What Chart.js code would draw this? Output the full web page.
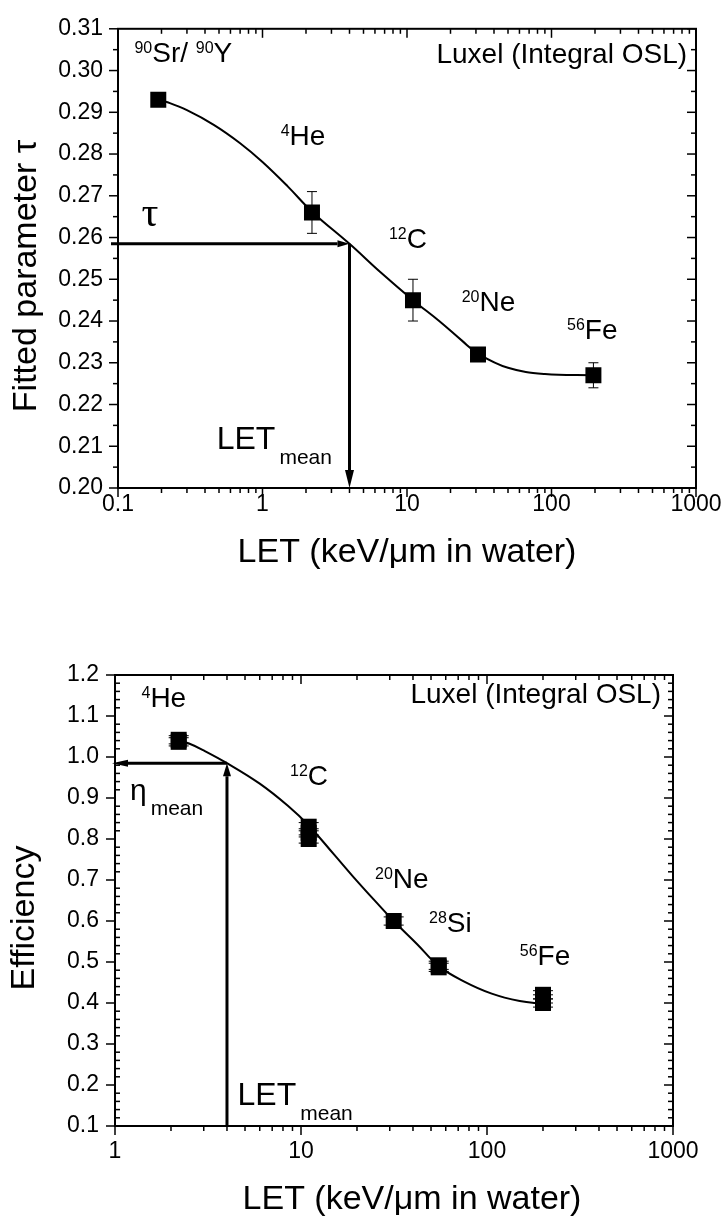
<!DOCTYPE html>
<html>
<head>
<meta charset="utf-8">
<title>LET dependence of tau and efficiency</title>
<script src="https://cdn.jsdelivr.net/npm/chart.js@4.4.1/dist/chart.umd.min.js"></script>
<style>
  body { margin: 0; background: #fff; }
  .panel { position: absolute; left: 0; }
</style>
</head>
<body>
<div class="panel" style="top:0"><canvas id="tauChart" width="728" height="600"></canvas></div>
<div class="panel" style="top:600px"><canvas id="effChart" width="728" height="620"></canvas></div>
<script>
const FONT = '"Liberation Sans", Arial, Helvetica, sans-serif';
const SERIF = '"Liberation Serif", "Times New Roman", serif';

// top panel: fitted parameter tau against LET
const tauLET = [0.19, 2.2, 11, 31, 195];
const tauValue = [0.293, 0.266, 0.245, 0.232, 0.227];
const tauError = [0.0005, 0.005, 0.005, 0.0005, 0.003];
const tauFitLET = [0.19, 0.22, 0.30, 0.46, 0.70, 1.0, 1.5, 2.2, 4.0, 6.5, 11, 16.7, 24, 31, 50, 90, 195];
const tauFitValue = [0.293, 0.2924, 0.2905, 0.2870, 0.2826, 0.2781, 0.2722, 0.2662, 0.2585, 0.2518, 0.2450, 0.2400, 0.2353, 0.2322, 0.2288, 0.2273, 0.2270];
const tauMeanLET = 4.0;
const tauMean = 0.2585;
const tauYTicks = [0.20, 0.21, 0.22, 0.23, 0.24, 0.25, 0.26, 0.27, 0.28, 0.29, 0.30, 0.31];
const tauYLabels = ["0.20", "0.21", "0.22", "0.23", "0.24", "0.25", "0.26", "0.27", "0.28", "0.29", "0.30", "0.31"];
const tauXTicks = [0.1, 1, 10, 100, 1000];
const tauXLabels = ["0.1", "1", "10", "100", "1000"];

// bottom panel: relative efficiency against LET
const effLET = [2.2, 2.2, 11, 11, 11, 31.5, 55, 55, 200, 200, 200];
const effValue = [1.042, 1.037, 0.83, 0.815, 0.80, 0.60, 0.492, 0.487, 0.42, 0.41, 0.40];
const effError = [0.01, 0.01, 0.01, 0.01, 0.01, 0.01, 0.01, 0.01, 0.01, 0.01, 0.01];
const effFitLET = [2.2, 2.5, 3.0, 4.0, 6.0, 8.5, 11, 15, 19, 25, 31.5, 42, 55, 75, 106, 150, 200];
const effFitValue = [1.04, 1.033, 1.016, 0.985, 0.935, 0.881, 0.833, 0.763, 0.709, 0.649, 0.60, 0.544, 0.49, 0.453, 0.423, 0.405, 0.398];
const effMeanLET = 4.0;
const effMean = 0.985;
const effYTicks = [0.1, 0.2, 0.3, 0.4, 0.5, 0.6, 0.7, 0.8, 0.9, 1.0, 1.1, 1.2];
const effYLabels = ["0.1", "0.2", "0.3", "0.4", "0.5", "0.6", "0.7", "0.8", "0.9", "1.0", "1.1", "1.2"];
const effXTicks = [1, 10, 100, 1000];
const effXLabels = ["1", "10", "100", "1000"];

// text run styles: font size and baseline shift
const RUN = {
  text: { size: 28, dy: 0, gap: 0 },
  sup: { size: 16, dy: -9, gap: 0 },
  big: { size: 32, dy: 0, gap: 0 },
  eta: { size: 30, dy: 0, gap: 0 },
  sub: { size: 21, dy: 15, gap: 4 },
};

function drawRuns(ctx, runs, x, y, align) {
  let w = 0;
  runs.forEach(([t, k]) => {
    ctx.font = RUN[k].size + "px " + FONT;
    w += ctx.measureText(t).width + RUN[k].gap;
  });
  let cx = align === "right" ? x - w : x;
  ctx.textAlign = "left";
  ctx.textBaseline = "alphabetic";
  runs.forEach(([t, k]) => {
    ctx.font = RUN[k].size + "px " + FONT;
    cx += RUN[k].gap;
    ctx.fillText(t, cx, y + RUN[k].dy);
    cx += ctx.measureText(t).width;
  });
}

function line(ctx, x1, y1, x2, y2) {
  ctx.beginPath();
  ctx.moveTo(x1, y1);
  ctx.lineTo(x2, y2);
  ctx.stroke();
}

function arrow(ctx, x1, y1, x2, y2, headLen, headHalf, width) {
  let ang = Math.atan2(y2 - y1, x2 - x1);
  let bx = x2 - headLen * Math.cos(ang);
  let by = y2 - headLen * Math.sin(ang);
  ctx.lineWidth = width;
  line(ctx, x1, y1, bx, by);
  ctx.beginPath();
  ctx.moveTo(x2, y2);
  ctx.lineTo(bx + headHalf * Math.sin(ang), by - headHalf * Math.cos(ang));
  ctx.lineTo(bx - headHalf * Math.sin(ang), by + headHalf * Math.cos(ang));
  ctx.closePath();
  ctx.fill();
}

// tick marks of a log axis, one per integer multiple inside each decade
function logTickMarks(min, max) {
  let out = [];
  for (let d = min; d < max * 0.999; d *= 10) {
    for (let k = 1; k < 10; k++) out.push({ v: d * k, major: k === 1 });
  }
  out.push({ v: max, major: true });
  return out;
}

function linTickMarks(min, step, count, every) {
  let out = [];
  for (let i = 0; i <= count; i++) out.push({ v: min + i * step, major: i % every === 0 });
  return out;
}

function errorBars(ctx, chart, xs, ys, errs, capHalf) {
  let sx = chart.scales.x, sy = chart.scales.y;
  ctx.save();
  ctx.strokeStyle = "#000";
  ctx.lineWidth = 1;
  xs.forEach((xv, i) => {
    let px = sx.getPixelForValue(xv);
    let top = sy.getPixelForValue(ys[i] + errs[i]);
    let bot = sy.getPixelForValue(ys[i] - errs[i]);
    line(ctx, px, top, px, bot);
    line(ctx, px - capHalf, top, px + capHalf, top);
    line(ctx, px - capHalf, bot, px + capHalf, bot);
  });
  ctx.restore();
}

function frameAndTicks(ctx, chart, xMarks, yMarks, leftMinorOut) {
  let a = chart.chartArea, sx = chart.scales.x, sy = chart.scales.y;
  ctx.save();
  ctx.strokeStyle = "#000";
  ctx.lineWidth = 1.5;
  xMarks.forEach(t => {
    let px = sx.getPixelForValue(t.v);
    let len = t.major ? 9 : 5;
    line(ctx, px, a.bottom, px, a.bottom + len);
    line(ctx, px, a.top, px, a.top + len);
  });
  yMarks.forEach(t => {
    let py = sy.getPixelForValue(t.v);
    let len = t.major ? 9 : 5;
    if (t.major || leftMinorOut) line(ctx, a.left - len, py, a.left, py);
    else line(ctx, a.left, py, a.left + len, py);
    line(ctx, a.right - len, py, a.right, py);
  });
  ctx.lineWidth = 2;
  ctx.strokeRect(a.left, a.top, a.right - a.left, a.bottom - a.top);
  ctx.restore();
}

function axisTitles(ctx, xTitle, xPos, yTitle, yPos) {
  ctx.save();
  ctx.fillStyle = "#000";
  ctx.font = "34px " + FONT;
  ctx.textAlign = "center";
  ctx.textBaseline = "middle";
  ctx.fillText(xTitle, xPos[0], xPos[1]);
  ctx.translate(yPos[0], yPos[1]);
  ctx.rotate(-Math.PI / 2);
  ctx.fillText(yTitle, 0, 0);
  ctx.restore();
}

function notes(ctx, chart, list) {
  let sx = chart.scales.x, sy = chart.scales.y;
  ctx.save();
  ctx.fillStyle = "#000";
  list.forEach(n => {
    let px = sx.getPixelForValue(n.x);
    let py = sy.getPixelForValue(n.y);
    if (n.serif) {
      ctx.font = n.serif + "px " + SERIF;
      ctx.textAlign = "left";
      ctx.textBaseline = "alphabetic";
      ctx.fillText(n.runs[0][0], px, py);
    } else {
      drawRuns(ctx, n.runs, px, py, n.align);
    }
  });
  ctx.restore();
}

function axisOptions(type, min, max, ticks, labels, padding, fit) {
  return {
    type: type,
    min: min,
    max: max,
    afterBuildTicks: s => { s.ticks = ticks.map(v => ({ value: v })); },
    afterFit: fit,
    ticks: {
      callback: (v, i) => labels[i],
      font: { family: FONT, size: 23 },
      color: "#000",
      padding: padding,
      autoSkip: false,
      maxRotation: 0,
    },
    grid: { display: false, drawTicks: false },
    border: { display: false },
  };
}

function pointSet(xs, ys) {
  return xs.map((x, i) => ({ x: x, y: ys[i] }));
}

const tauNotes = [
  { x: 0.130, y: 0.302, runs: [["90", "sup"], ["Sr/ ", "text"], ["90", "sup"], ["Y", "text"]] },
  { x: 867, y: 0.3018, align: "right", runs: [["Luxel (Integral OSL)", "text"]] },
  { x: 1.336, y: 0.2822, runs: [["4", "sup"], ["He", "text"]] },
  { x: 7.5, y: 0.2576, runs: [["12", "sup"], ["C", "text"]] },
  { x: 23.9, y: 0.2424, runs: [["20", "sup"], ["Ne", "text"]] },
  { x: 128, y: 0.2358, runs: [["56", "sup"], ["Fe", "text"]] },
  { x: 0.1455, y: 0.2627, serif: 42, runs: [["τ", "text"]] },
  { x: 0.482, y: 0.2094, runs: [["LET", "big"], ["mean", "sub"]] },
];

const effNotes = [
  { x: 1.388, y: 1.122, runs: [["4", "sup"], ["He", "text"]] },
  { x: 862, y: 1.132, align: "right", runs: [["Luxel (Integral OSL)", "text"]] },
  { x: 8.73, y: 0.932, runs: [["12", "sup"], ["C", "text"]] },
  { x: 1.204, y: 0.895, runs: [["η", "eta"], ["mean", "sub"]] },
  { x: 25.0, y: 0.680, runs: [["20", "sup"], ["Ne", "text"]] },
  { x: 48.8, y: 0.573, runs: [["28", "sup"], ["Si", "text"]] },
  { x: 150, y: 0.493, runs: [["56", "sup"], ["Fe", "text"]] },
  { x: 4.56, y: 0.151, runs: [["LET", "big"], ["mean", "sub"]] },
];

let tauChart = new Chart(document.getElementById("tauChart"), {
  type: "scatter",
  data: {
    datasets: [
      {
        data: pointSet(tauLET, tauValue),
        pointStyle: "rect",
        pointRadius: 11.3,
        pointHoverRadius: 11.3,
        backgroundColor: "#000",
        borderWidth: 0,
      },
      {
        type: "line",
        data: pointSet(tauFitLET, tauFitValue),
        borderColor: "#000",
        borderWidth: 2,
        pointRadius: 0,
        fill: false,
        tension: 0.4,
      },
    ],
  },
  options: {
    responsive: false,
    animation: false,
    layout: { padding: { left: 0, right: 32, top: 18, bottom: 0 } },
    plugins: { legend: { display: false }, tooltip: { enabled: false } },
    scales: {
      x: axisOptions("logarithmic", 0.1, 1000, tauXTicks, tauXLabels, 3, s => { s.height = 112; }),
      y: axisOptions("linear", 0.20, 0.31, tauYTicks, tauYLabels, 15, s => { s.width = 118; }),
    },
  },
  plugins: [{
    id: "tauExtras",
    beforeDatasetsDraw(chart) {
      errorBars(chart.ctx, chart, tauLET, tauValue, tauError, 5);
    },
    afterDatasetsDraw(chart) {
      let ctx = chart.ctx, a = chart.chartArea;
      frameAndTicks(ctx, chart, logTickMarks(0.1, 1000), linTickMarks(0.20, 0.005, 22, 2), true);
      let px = chart.scales.x.getPixelForValue(tauMeanLET);
      let py = chart.scales.y.getPixelForValue(tauMean);
      ctx.save();
      ctx.fillStyle = "#000";
      ctx.strokeStyle = "#000";
      arrow(ctx, a.left - 7, py, px, py, 12, 3.5, 3);
      arrow(ctx, px, py, px, a.bottom, 18, 4.5, 3);
      ctx.restore();
      notes(ctx, chart, tauNotes);
      axisTitles(ctx, "LET (keV/μm in water)", [407, 553], "Fitted parameter τ", [27, 276]);
    },
  }],
});

let effChart = new Chart(document.getElementById("effChart"), {
  type: "scatter",
  data: {
    datasets: [
      {
        data: pointSet(effLET, effValue),
        pointStyle: "rect",
        pointRadius: 11.3,
        pointHoverRadius: 11.3,
        backgroundColor: "#000",
        borderWidth: 0,
      },
      {
        type: "line",
        data: pointSet(effFitLET, effFitValue),
        borderColor: "#000",
        borderWidth: 2,
        pointRadius: 0,
        fill: false,
        tension: 0.4,
      },
    ],
  },
  options: {
    responsive: false,
    animation: false,
    layout: { padding: { left: 0, right: 55, top: 75, bottom: 0 } },
    plugins: { legend: { display: false }, tooltip: { enabled: false } },
    scales: {
      x: axisOptions("logarithmic", 1, 1000, effXTicks, effXLabels, 12, s => { s.height = 94; }),
      y: axisOptions("linear", 0.1, 1.2, effYTicks, effYLabels, 16, s => { s.width = 115; }),
    },
  },
  plugins: [{
    id: "effExtras",
    beforeDatasetsDraw(chart) {
      errorBars(chart.ctx, chart, effLET, effValue, effError, 10);
    },
    afterDatasetsDraw(chart) {
      let ctx = chart.ctx, a = chart.chartArea;
      frameAndTicks(ctx, chart, logTickMarks(1, 1000), linTickMarks(0.1, 0.02, 55, 5), false);
      let px = chart.scales.x.getPixelForValue(effMeanLET);
      let py = chart.scales.y.getPixelForValue(effMean);
      ctx.save();
      ctx.fillStyle = "#000";
      ctx.strokeStyle = "#000";
      arrow(ctx, px, a.bottom, px, py, 13, 4, 3);
      arrow(ctx, px, py, a.left - 3, py, 16, 3.5, 3);
      ctx.restore();
      notes(ctx, chart, effNotes);
      axisTitles(ctx, "LET (keV/μm in water)", [412, 600], "Efficiency", [25, 318]);
    },
  }],
});
</script>
</body>
</html>
